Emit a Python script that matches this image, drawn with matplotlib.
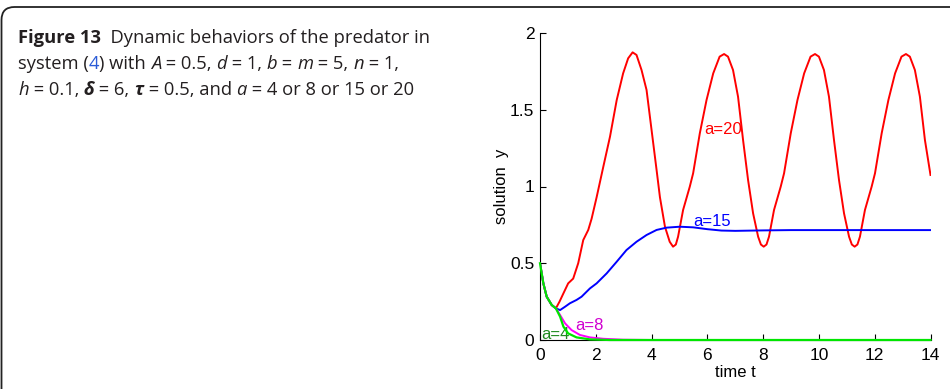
import matplotlib
matplotlib.use("Agg")
import matplotlib.pyplot as plt
from matplotlib.patches import FancyBboxPatch
from matplotlib.transforms import IdentityTransform

# predator density y(t) for the four values of a
t_a20 = [0.0, 0.12, 0.24, 0.42, 0.57, 0.70, 0.84, 1.01, 1.19, 1.37, 1.55, 1.73, 1.85,
         2.03, 2.27, 2.51, 2.75, 2.98, 3.16, 3.32, 3.46, 3.64, 3.82, 4.00, 4.18, 4.30,
         4.48, 4.65, 4.77, 4.87, 4.95, 5.13, 5.37, 5.49, 5.73, 5.97, 6.21, 6.44, 6.60,
         6.74, 6.92, 7.10, 7.28, 7.46, 7.64, 7.82, 7.92, 8.02, 8.12, 8.21, 8.39, 8.63,
         8.75, 8.99, 9.23, 9.47, 9.70, 9.86, 10.00, 10.18, 10.36, 10.54, 10.72, 10.90,
         11.08, 11.18, 11.28, 11.38, 11.47, 11.65, 11.89, 12.01, 12.25, 12.49, 12.73,
         12.96, 13.12, 13.26, 13.44, 13.62, 13.80, 14.00]
y_a20 = [0.50, 0.369, 0.282, 0.228, 0.206, 0.25, 0.304, 0.369, 0.40, 0.50, 0.651, 0.717, 0.79,
         0.93, 1.129, 1.325, 1.563, 1.737, 1.835, 1.874, 1.857, 1.759, 1.629, 1.368, 1.107, 0.93,
         0.738, 0.640, 0.608, 0.622, 0.673, 0.847, 0.999, 1.086, 1.347, 1.563, 1.737, 1.846, 1.863,
         1.846, 1.759, 1.585, 1.303, 1.042, 0.825, 0.673, 0.622, 0.608, 0.622, 0.673, 0.847, 0.999,
         1.086, 1.347, 1.563, 1.737, 1.846, 1.863, 1.846, 1.759, 1.585, 1.303, 1.042, 0.825,
         0.673, 0.622, 0.608, 0.622, 0.673, 0.847, 0.999, 1.086, 1.347, 1.563, 1.737,
         1.846, 1.863, 1.846, 1.759, 1.585, 1.303, 1.075]

t_a15 = [0.0, 0.12, 0.24, 0.42, 0.57, 0.72, 0.90, 1.07, 1.31, 1.49, 1.79, 2.03, 2.39,
         2.75, 3.10, 3.46, 3.82, 4.18, 4.54, 5.01, 5.49, 6.0, 6.5, 7.0, 8.0, 9.0, 10.0,
         12.0, 14.0]
y_a15 = [0.50, 0.369, 0.282, 0.228, 0.206, 0.195, 0.217, 0.239, 0.261, 0.282, 0.336, 0.369, 0.434,
         0.510, 0.586, 0.640, 0.684, 0.717, 0.732, 0.738, 0.734, 0.722, 0.713, 0.711, 0.714, 0.716, 0.716,
         0.716, 0.716]

t_a8 = [0.0, 0.12, 0.24, 0.42, 0.57, 0.72, 0.90, 1.13, 1.43, 1.79, 2.27, 2.98, 4.0, 14.0]
y_a8 = [0.50, 0.369, 0.282, 0.228, 0.206, 0.163, 0.108, 0.065, 0.033, 0.017, 0.008, 0.002, 0.0, 0.0]

t_a4 = [0.0, 0.12, 0.24, 0.42, 0.57, 0.72, 0.84, 1.01, 1.31, 1.79, 2.5, 14.0]
y_a4 = [0.50, 0.369, 0.282, 0.228, 0.206, 0.152, 0.087, 0.043, 0.017, 0.004, 0.0, 0.0]

xticks = [0, 2, 4, 6, 8, 10, 12, 14]
yticks = [0, 0.5, 1, 1.5, 2]
ytick_labels = ['0', '0.5', '1', '1.5', '2']

W, H = 950, 389
fig = plt.figure(figsize=(W / 100, H / 100), dpi=100)

# rounded frame around the caption and the plot
frame = FancyBboxPatch((1.5, -40), W + 60, H - 7 + 40, boxstyle="round,pad=0,rounding_size=13",
                       transform=IdentityTransform(), facecolor='none', edgecolor='#222222',
                       linewidth=1.3, zorder=0)
fig.patches.append(frame)

# caption, drawn run by run so that the styles can change inside a line
cap_font = 'Open Sans'
cap_size = 13.2
renderer = fig.canvas.get_renderer()


def draw_runs(x_px, base_px, runs):
    x = x_px
    for s, kw in runs:
        txt = fig.text(x / W, 1 - base_px / H, s, fontsize=cap_size, family=cap_font,
                       va='baseline', ha='left', color=kw.get('color', '#231f20'),
                       fontweight=kw.get('weight', 'normal'), fontstyle=kw.get('style', 'normal'))
        x += txt.get_window_extent(renderer).width


it = {'style': 'italic'}
plain = {}
draw_runs(18, 43, [("Figure 13", {'weight': 'bold'}), ("  Dynamic behaviors of the predator in", plain)])
draw_runs(18, 69, [("system (", plain), ("4", {'color': '#2a5bd7'}), (") with ", plain),
                   ("A", it), (" = 0.5, ", plain), ("d", it), (" = 1, ", plain), ("b", it),
                   (" = ", plain), ("m", it), (" = 5, ", plain), ("n", it), (" = 1,", plain)])
draw_runs(18, 95, [("h", it), (" = 0.1, ", plain), ("δ", {'style': 'italic', 'weight': 'bold'}),
                   (" = 6, ", plain), ("τ", {'style': 'italic', 'weight': 'bold'}),
                   (" = 0.5, and ", plain), ("a", it), (" = 4 or 8 or 15 or 20", plain)])

# plot panel
ax = fig.add_axes([540 / W, 1 - 340 / H, 390.5 / W, 307 / H])
ax.plot(t_a20, y_a20, color='#ff0000', lw=1.4)
ax.plot(t_a15, y_a15, color='#0000ff', lw=1.4)
ax.plot(t_a8, y_a8, color='#ff00ff', lw=1.4)
ax.plot(t_a4, y_a4, color='#00e600', lw=1.6, clip_on=False, zorder=4)

lab = dict(fontsize=12, family='Liberation Sans', va='center', ha='left')
ax.text(5.9, 1.37, 'a=20', color='#ff0000', **lab)
ax.text(5.5, 0.775, 'a=15', color='#0000ff', **lab)
ax.text(1.27, 0.095, 'a=8', color='#d000d0', **lab)
ax.text(0.06, 0.034, 'a=4', color='#1f8a1f', **lab)

ax.set_xlim(0, 14)
ax.set_ylim(0, 2)
ax.set_xticks(xticks)
ax.set_xticklabels([str(v) for v in xticks])
ax.set_yticks(yticks)
ax.set_yticklabels(ytick_labels)
ax.tick_params(direction='in', length=4, width=0.8, labelsize=12.5)
ax.tick_params(axis='x', pad=6)
ax.tick_params(axis='y', pad=4)
for lbl in ax.get_xticklabels() + ax.get_yticklabels():
    lbl.set_family('Liberation Sans')
ax.spines['top'].set_visible(False)
ax.spines['right'].set_visible(False)
for side in ('left', 'bottom'):
    ax.spines[side].set_linewidth(0.8)
ax.set_xlabel('time t', fontsize=12, family='Liberation Sans', labelpad=1)
ax.set_ylabel('solution  y', fontsize=12, family='Liberation Sans', labelpad=1)
ax.set_facecolor('none')

fig.savefig('out.png', dpi=100)
